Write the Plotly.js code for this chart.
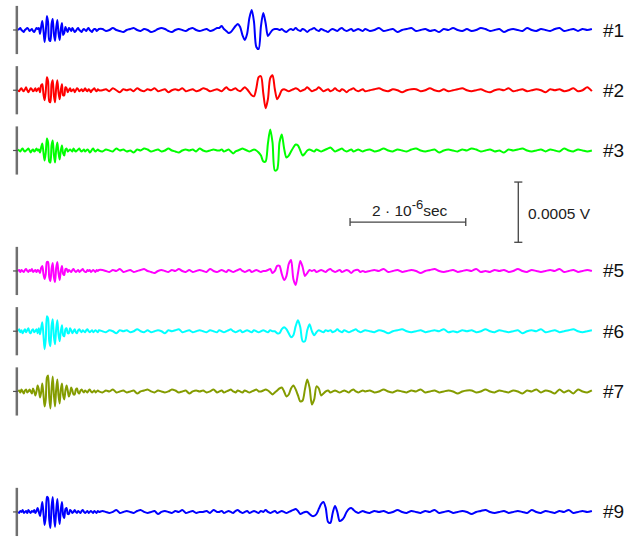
<!DOCTYPE html>
<html><head><meta charset="utf-8">
<script src="https://cdn.plot.ly/plotly-3.0.1.min.js"></script>
<style>html,body{margin:0;padding:0;background:#fff}#chart{width:637px;height:537px}</style>
</head><body><div id="chart"></div>
<script>
// time base (microseconds): [start, end, step] of each sampled stretch
const sampleSegments = [[0, 1.40, 0.02], [1.46, 3.44, 0.06], [3.48, 5.96, 0.04], [6.00, 9.92, 0.08]];

// trace identifiers and labels
const traceNumbers = [1, 2, 3, 5, 6, 7, 9];
const traceLabels = ['#1', '#2', '#3', '#5', '#6', '#7', '#9'];

// received signals, microvolts
const wave1 = [
0,8,17,0,-8,-17,0,8,17,8,-8,0,8,-8,-17,0,17,8,
17,-33,25,75,0,-100,-17,116,66,-83,-91,50,91,-33,-91,17,83,-25,-83,8,58,-42,-25,25,0,-17,17,
8,-8,17,0,-17,-8,8,17,0,-8,-17,0,8,0,-8,8,17,0,-8,-17,0,8,8,-8,0,8,
8,-8,0,17,0,-8,-17,0,8,17,0,-8,8,0,-17,-8,8,17,8,-8,-17,0,8,0,-8,8,17,0,-8,0,8,-8,0,17,
17,33,8,-8,-25,-17,8,33,50,25,-42,-83,-33,100,166,66,-141,-158,33,141,58,-50,-25,0,8,8,0,8,-8,-17,0,8,0,17,0,
-8,8,0,-17,0,8,17,0,-8,8,0,-8,-17,0,8,0,-8,8,17,0,-8,0,8,-8,0,8,0,-8,
8,-8,0,17,-8,0,8,-17,0,8,17,-8,0,8,-8,0,-17,8,0,17,0,-8,8,-8,0,17,8,-8,0,8,-17,0,8,0,-8,17,0,-8,8,0,-8,8,17,-8,0,8,-8,8,0,8];
const wave2 = [
0,-8,8,17,0,-8,8,25,0,-17,0,17,8,-8,0,17,-8,8,
17,-17,42,50,-33,-83,-8,108,75,-91,-100,50,83,-42,-100,17,83,-17,-75,0,50,-42,-42,25,17,-17,0,
17,-8,0,8,-17,0,17,8,-8,0,8,-8,0,17,0,-8,8,0,-17,0,8,17,0,-8,8,0,
0,8,-8,17,0,-17,8,0,8,-8,17,0,-8,8,0,17,-8,0,8,-17,0,8,0,17,-8,0,8,-8,0,17,8,-8,0,8,
0,-8,8,25,8,0,8,17,0,-8,8,25,8,-17,-42,-50,17,108,116,-25,-149,-75,100,125,8,-75,-42,0,8,0,-8,0,8,17,8,-8,0,8,25,8,-8,0,8,25,8,
-8,0,8,-8,0,17,0,-8,8,0,-17,0,8,17,0,-8,0,8,
-8,0,8,17,0,-8,8,0,-17,0,8,8,-8,0,17,0,-8,8,-8,0,8,17,0,-8,0,8,-8,-17,0,8,0,17,-8,0,8,-8,0,8,0,-17,8,0,8,-8,0,17,-8,0,25,-8];
const wave3 = [
8,0,-8,8,17,0,-8,0,8,17,0,-17,0,8,-8,0,17,0,
8,-17,25,58,-17,-83,-17,100,66,-91,-100,42,83,-33,-100,8,66,-17,-75,0,42,-25,-42,8,17,-8,0,
8,0,-8,17,0,-8,0,8,17,0,-8,0,8,-8,0,8,0,-17,-8,8,17,0,-8,0,8,0,
-8,8,0,-8,17,0,8,-8,0,-17,8,0,17,8,-8,0,8,-8,0,17,0,-8,-17,0,8,0,8,-8,17,0,-8,0,8,0,
0,8,-8,0,8,-8,-25,-8,0,8,17,8,0,-8,0,8,0,-17,-42,-91,-91,58,174,66,-166,-158,66,133,17,-58,-42,-8,25,50,42,0,-42,-25,0,
8,0,-8,8,0,-8,0,8,17,25,8,-8,0,8,17,0,-8,0,8,-8,0,8,0,-8,
0,8,-8,0,17,0,-8,8,0,-8,8,17,0,-8,0,8,-17,0,8,0,-8,8,0,17,8,-8,0,8,-8,0,-17,8,0,8,17,0,-8,0,8,-8,8,0,-8,17,0,-8,8,0,-8,0];
const wave5 = [
0,8,-8,8,0,-8,8,17,0,-8,8,0,17,-8,0,8,-8,8,
0,-17,25,42,-25,-66,-25,75,75,-50,-83,17,66,-50,-91,25,75,-17,-75,0,42,-25,-33,17,17,-8,8,
0,-8,8,17,0,-8,0,8,-8,0,8,17,0,-8,-8,8,0,8,-8,0,8,0,-8,8,0,8,
8,0,-8,8,0,17,-8,0,8,-8,0,8,17,0,-8,-17,0,8,0,-8,8,0,17,0,-8,8,-8,0,8,0,-8,17,0,-8,
0,8,0,-8,8,0,-8,0,8,17,0,-8,0,8,-8,0,8,0,-8,0,
0,8,17,-17,0,42,42,-25,-75,-42,58,91,-66,-116,-17,83,33,-42,-17,8,0,
8,-8,0,8,0,-8,8,17,0,-8,0,8,-8,0,8,0,-17,0,8,8,-8,0,
-8,0,8,0,17,-8,0,8,-8,0,8,0,-17,0,8,17,0,-8,0,8,-8,0,8,0,17,-8,0,-8,8,0,8,-8,0,17,0,-8,8,0,-8,0,8,0,17,-8,0,8,-8,0,8,0];
const wave6 = [
0,17,-8,8,-17,0,17,-8,8,25,-8,-17,8,17,-8,0,17,-17,
25,-25,25,75,-33,-149,-66,125,108,-83,-125,42,100,-42,-108,17,91,-25,-83,0,50,-33,-42,17,25,-17,-17,
25,8,-17,0,17,-8,-17,8,17,0,-8,8,0,-8,8,17,0,-8,0,8,-8,0,8,0,-8,8,
0,-8,8,0,-17,8,0,8,-8,0,17,0,-8,8,-8,0,8,0,-17,8,0,8,17,-8,0,8,-8,0,8,0,-8,8,0,-8,
8,0,-8,0,8,17,0,-8,0,8,-8,0,8,0,-8,8,0,-8,0,8,0,-8,8,0,
0,-17,-17,17,33,17,-17,-50,-33,42,91,33,-83,-83,8,58,0,-33,-8,8,
0,-8,8,0,8,-8,0,17,0,-8,8,0,-8,0,8,17,0,-8,0,
8,0,-8,8,0,-17,0,8,17,0,-8,0,8,-8,0,8,0,17,-8,0,-8,8,0,8,-8,0,17,0,-8,8,0,-8,0,8,-17,0,8,0,17,-8,0,8,-8,0,8,17,0,-8,0,8];
const wave7 = [
0,8,-8,17,0,-17,8,17,-8,0,17,0,-17,
25,0,-33,0,50,17,-50,-8,66,-25,-125,-66,116,133,-50,-141,17,125,-25,-125,17,100,-33,-100,17,66,-33,-66,8,50,8,-42,-17,33,8,-25,-25,17,25,-8,-17,8,17,0,-8,
8,0,-8,8,17,0,-8,0,8,-8,0,8,0,
-8,8,0,17,-8,0,8,-8,0,8,-17,0,8,17,0,-8,8,0,-8,0,17,8,-8,0,8,-17,0,8,0,8,-8,0,17,-8,
0,8,-8,0,8,17,0,-8,8,0,-8,8,0,-8,0,8,17,0,
0,8,17,8,-8,-25,-8,8,25,33,0,-42,-25,25,50,17,-33,-83,-75,17,100,33,-108,-66,42,25,-33,-17,0,8,
-8,0,8,0,-8,0,8,0,-8,8,17,0,-8,0,8,
0,8,-8,0,17,0,-8,8,0,-8,8,0,17,-8,0,8,-8,0,8,0,-17,0,8,8,-8,0,17,0,-8,8,0,-8,8,0,-17,8,0,17,-8,8,0,-17,17,-8,8,-17,17,0,-8,8];
const wave9 = [
0,-8,8,0,17,-8,0,8,-8,17,0,-8,8,0,17,-8,8,
33,0,-33,17,83,-8,-108,-42,125,116,-66,-133,42,125,-25,-125,8,108,-17,-100,17,83,-25,-50,25,33,-17,-17,17,8,
-8,0,17,0,-8,8,0,-8,8,17,0,-8,0,8,-8,0,8,0,-8,8,0,-8,8,0,
8,0,-8,0,17,-8,0,8,0,-8,8,17,0,-8,0,8,-17,0,8,0,-8,8,0,17,-8,0,8,-8,0,0,8,-8,17,0,
0,8,-8,0,8,0,-8,8,17,0,-8,0,8,-8,0,8,0,-8,8,0,17,0,-8,0,8,-8,0,8,0,-8,
0,8,17,25,8,-17,-8,0,0,-17,-33,-33,-17,25,66,83,33,-83,-91,-8,50,0,-75,-66,-42,0,25,33,17,0,-8,0,8,
0,-8,8,0,8,-8,0,17,0,-8,8,0,-8,8,0,17,-8,0,8,-8,0,8,0,-17,0,8,17,0,-8,0,8,-8,0,8,0,-8,17,0,-8,8,0,-8,8,0,17,-8,0,8,0,8];

// scale bar values
const scaleTimeUs = 2;        // 2·10^-6 s
const scaleVoltUv = 500;      // 0.0005 V
const traceSpacingUv = 500;   // vertical offset between successive channel numbers

// styles
const traceColors = ['#0000ff', '#ff0000', '#00ff00', '#ff00ff', '#00ffff', '#849c00', '#0000ff'];

// ---- build ----
const t = [];
for (const [a, b, s] of sampleSegments) {
  const n = Math.round((b - a) / s);
  for (let k = 0; k <= n; k++) t.push(+(a + k * s).toFixed(3));
}
const waves = [wave1, wave2, wave3, wave5, wave6, wave7, wave9];
const offsets = traceNumbers.map(n => -(n - 1) * traceSpacingUv);

const data = waves.map((w, k) => ({
  type: 'scatter', mode: 'lines', x: t, y: w.map(v => v + offsets[k]),
  line: { color: traceColors[k], width: 2, shape: 'spline', smoothing: 0.8 },
  hoverinfo: 'skip'
}));

const shapes = [];
const annotations = [];
offsets.forEach((off, k) => {
  shapes.push({ type: 'line', xref: 'x', yref: 'y', x0: -0.02, x1: -0.02, y0: off - 200, y1: off + 200,
    line: { color: '#707070', width: 2.5 } });
  shapes.push({ type: 'line', xref: 'x', yref: 'y', x0: -0.085, x1: -0.005, y0: off, y1: off,
    line: { color: '#505050', width: 1.2 } });
  annotations.push({ x: 10.085, y: off, xref: 'x', yref: 'y', text: traceLabels[k], showarrow: false,
    xanchor: 'left', yanchor: 'middle', font: { size: 19, color: '#111' } });
});

// horizontal (time) scale bar
const hbX0 = 5.74, hbY = -1594, cap = 33;
shapes.push({ type: 'line', x0: hbX0, x1: hbX0 + scaleTimeUs, y0: hbY, y1: hbY, line: { color: '#444', width: 1.3 } });
shapes.push({ type: 'line', x0: hbX0, x1: hbX0, y0: hbY - cap, y1: hbY + cap, line: { color: '#444', width: 1.3 } });
shapes.push({ type: 'line', x0: hbX0 + scaleTimeUs, x1: hbX0 + scaleTimeUs, y0: hbY - cap, y1: hbY + cap, line: { color: '#444', width: 1.3 } });
annotations.push({ x: hbX0 + scaleTimeUs / 2 + 0.03, y: -1475, text: '2 · 10<sup><span style="font-size:13px">-6</span></sup>sec', showarrow: false,
  xanchor: 'center', yanchor: 'middle', font: { size: 15.5, color: '#222' } });

// vertical (voltage) scale bar
const vbX = 8.648, vbY0 = -1262, capX = 0.07;
shapes.push({ type: 'line', x0: vbX, x1: vbX, y0: vbY0, y1: vbY0 - scaleVoltUv, line: { color: '#444', width: 1.3 } });
shapes.push({ type: 'line', x0: vbX - capX, x1: vbX + capX, y0: vbY0, y1: vbY0, line: { color: '#444', width: 1.3 } });
shapes.push({ type: 'line', x0: vbX - capX, x1: vbX + capX, y0: vbY0 - scaleVoltUv, y1: vbY0 - scaleVoltUv, line: { color: '#444', width: 1.3 } });
annotations.push({ x: 8.78, y: -1523, text: '0.0005 V', showarrow: false,
  xanchor: 'left', yanchor: 'middle', font: { size: 15.5, color: '#222' } });

const layout = {
  width: 637, height: 537, margin: { l: 0, r: 0, t: 0, b: 0 },
  paper_bgcolor: '#fff', plot_bgcolor: '#fff', showlegend: false,
  font: { family: 'Liberation Sans, Arial, Helvetica, sans-serif' },
  xaxis: { range: [-0.311, 10.70], visible: false },
  yaxis: { range: [-4208, 249], visible: false },
  shapes: shapes, annotations: annotations
};
Plotly.newPlot('chart', data, layout, { staticPlot: true });
</script>
</body></html>
